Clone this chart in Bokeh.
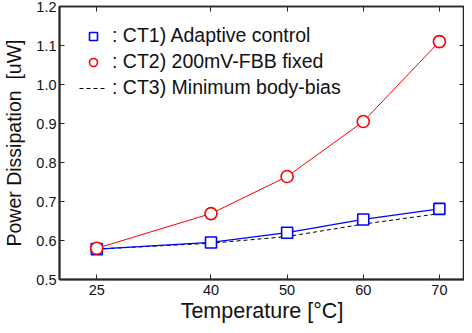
from bokeh.plotting import figure
from bokeh.models import LinearAxis, FixedTicker, Legend, LegendItem, Range1d
from bokeh.embed import file_html
from bokeh.resources import INLINE

temps = [25, 40, 50, 60, 70]
ct1_adaptive = [0.578, 0.595, 0.620, 0.654, 0.681]
ct2_fbb = [0.580, 0.669, 0.764, 0.905, 1.110]
ct3_min = [0.578, 0.593, 0.610, 0.642, 0.669]
x_ticks = [25, 40, 50, 60, 70]
y_ticks = [0.5, 0.6, 0.7, 0.8, 0.9, 1.0, 1.1, 1.2]

FONT = "Liberation Sans"
AX = "#262626"

p = figure(width=464, height=325, output_backend="svg", toolbar_location=None,
           x_range=Range1d(20.1, 73.3), y_range=Range1d(0.5, 1.2),
           x_axis_location=None, y_axis_location=None,
           min_border_left=54, min_border_right=0, min_border_top=6, min_border_bottom=46)
p.grid.visible = False
p.outline_line_color = AX
p.outline_line_width = 1.5
p.background_fill_color = "white"
p.border_fill_color = "white"

def make_axis(labels=True, **kw):
    ax = LinearAxis(**kw)
    ax.axis_line_color = AX
    ax.axis_line_width = 2
    ax.major_tick_in = 5
    ax.major_tick_out = 0
    ax.minor_tick_line_color = None
    ax.major_tick_line_color = AX
    ax.major_tick_line_width = 1
    ax.major_label_text_font = FONT
    ax.major_label_text_font_size = "14.5px"
    ax.major_label_text_color = "#111111"
    ax.axis_label_text_font = FONT
    ax.axis_label_text_font_style = "normal"
    ax.axis_label_text_font_size = "21px"
    ax.axis_label_text_color = "#111111"
    if not labels:
        ax.major_label_overrides = {t: "" for t in kw["ticker"].ticks}
        ax.major_label_text_font_size = "0px"
        ax.major_label_standoff = 0
        ax.axis_label_standoff = 0
    return ax

bottom = make_axis(ticker=FixedTicker(ticks=x_ticks), axis_label="Temperature [°C]")
bottom.major_label_standoff = 5
bottom.axis_label_standoff = 1
bottom.axis_label_text_font_size = "21.5px"
left = make_axis(ticker=FixedTicker(ticks=y_ticks), axis_label="Power Dissipation\u00a0 [uW]")
left.major_label_overrides = {v: f"{v:.1f}" for v in y_ticks}
left.major_label_standoff = 3
left.axis_label_standoff = 8
left.axis_label_text_font_size = "19.5px"
top = make_axis(labels=False, ticker=FixedTicker(ticks=x_ticks))
top.axis_line_width = 1.5
right = make_axis(labels=False, ticker=FixedTicker(ticks=y_ticks))
right.axis_line_width = 1.5
p.add_layout(bottom, "below")
p.add_layout(left, "left")
p.add_layout(top, "above")
p.add_layout(right, "right")

r3 = p.line(temps, ct3_min, line_color="black", line_dash="4 3", line_width=1)
p.line(temps, ct1_adaptive, line_color="#0000ff", line_width=1.2)
r1 = p.scatter(temps, ct1_adaptive, marker="square", size=11, fill_color="white",
               line_color="#0000ff", line_width=1.6)
p.line(temps, ct2_fbb, line_color="#ff0000", line_width=1)
r2 = p.scatter(temps, ct2_fbb, marker="circle", size=12, fill_color="white",
               line_color="#ff0000", line_width=1.6)

legend = Legend(items=[
    LegendItem(label=": CT1) Adaptive control", renderers=[r1]),
    LegendItem(label=": CT2) 200mV-FBB fixed", renderers=[r2]),
    LegendItem(label=": CT3) Minimum body-bias", renderers=[r3]),
], location=(20, 180))
legend.border_line_color = None
legend.background_fill_alpha = 0
legend.padding = 0
legend.margin = 0
legend.spacing = 3
legend.glyph_width = 28
legend.glyph_height = 20
legend.label_height = 20
legend.label_standoff = 5
legend.label_text_font = FONT
legend.label_text_font_size = "19.5px"
legend.label_text_color = "#111111"
p.add_layout(legend, "center")

open("out.html", "w").write(file_html(p, INLINE))
